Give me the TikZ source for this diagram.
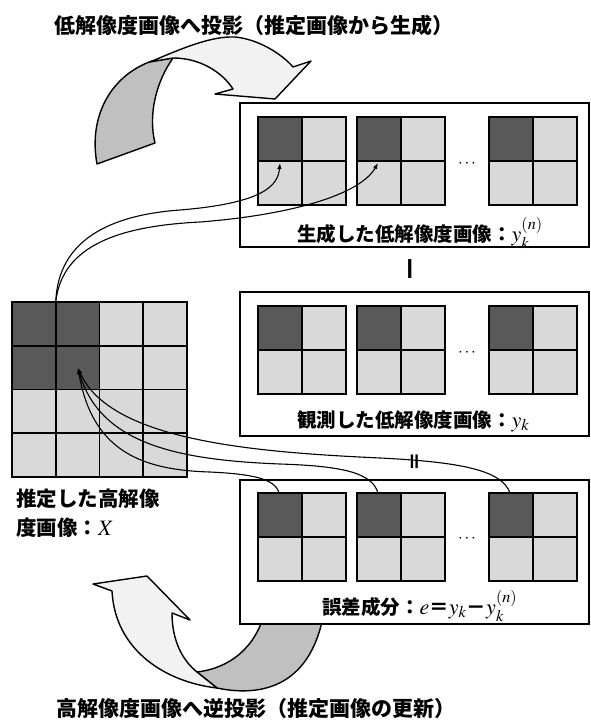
\documentclass[tikz,border=0pt]{standalone}
\usepackage{mathptmx}
\usepackage{fontspec}
\setmainfont{Liberation Serif}
\newfontfamily\jp{Noto Sans CJK JP}
\usetikzlibrary{arrows.meta}
\definecolor{cdark}{HTML}{595959}
\definecolor{clight}{HTML}{D9D9D9}
\definecolor{cgray}{HTML}{C0C0C0}
\definecolor{cpale}{HTML}{F2F2F2}
\newcommand\mth[1]{{\fontsize{22}{24}\selectfont$#1$}}
\begin{document}
\begin{tikzpicture}[x=1pt,y=-1pt,
  gline/.style={line width=1.8pt},
  panel/.style={draw, line width=1.8pt, fill=white, minimum width=349pt, minimum height=144pt, anchor=north west, inner sep=0pt, outer sep=0pt},
  link/.style={line width=1.1pt, -{Latex[length=6pt,width=4.5pt]}},
  bigarrow/.style={line width=1.4pt, line join=round},
  jtext/.style={font=\jp\bfseries\fontsize{19.5}{23}\selectfont, inner sep=0pt},
  jtitle/.style={font=\jp\bfseries\fontsize{21}{24}\selectfont, inner sep=0pt},
  jleft/.style={font=\jp\bfseries\fontsize{20.5}{24}\selectfont, inner sep=0pt},
  dotsn/.style={font=\fontsize{17}{17}\selectfont, inner sep=0pt},
  lowres/.pic={
    \fill[clight] (0,0) rectangle (88,88);
    \fill[cdark] (0,0) rectangle (44,44);
    \draw[gline] (0,0) rectangle (88,88) (44,0) -- (44,88) (0,44) -- (88,44);
  }]
\useasboundingbox (0,0) rectangle (591,720);

% big curved arrows
\filldraw[bigarrow, fill=cgray] (97,164) .. controls (88,115) and (112,75) .. (152,61) -- (173,58) .. controls (156,82) and (148,115) .. (155,143) -- cycle;
\filldraw[bigarrow, fill=cpale] (150,62) .. controls (185,47) and (212,36) .. (235,37) .. controls (258,39) and (282,54) .. (293,67) -- (311,61) -- (275,99) -- (215,94) -- (233,89) .. controls (222,72) and (200,58) .. (173,58) -- cycle;
\filldraw[bigarrow, fill=cgray] (197,672) .. controls (230,668) and (255,648) .. (265,612) -- (324,612) .. controls (310,692) and (255,696) .. (217,688) -- cycle;
\filldraw[bigarrow, fill=cpale] (112,591) -- (93,584) -- (147,576) -- (190,620) -- (172,613) .. controls (172,640) and (182,660) .. (197,672) -- (217,688) .. controls (165,682) and (115,650) .. (112,591) -- cycle;

% panels
\node[panel] (P1) at (240,103) {};
\node[panel] (P2) at (240,292) {};
\node[panel] (P3) at (240,480) {};

\foreach \yy in {117,306,493}{
  \foreach \xx in {258,357,489}{
    \pic at (\xx,\yy) {lowres};
  }
}
\node[dotsn] (d1) at (467,164) {$\cdots$};
\node[dotsn] (d2) at (467,353) {$\cdots$};
\node[dotsn] (d3) at (467,539) {$\cdots$};

% estimated high-res image
\fill[clight] (12,302) rectangle (187,477);
\fill[cdark] (12,302) rectangle (99.5,389.5);
\draw[gline] (12,302) rectangle (187,477);
\foreach \i in {1,2,3}{
  \draw[gline] (12+43.75*\i,302) -- (12+43.75*\i,477);
  \draw[gline] (12,302+43.75*\i) -- (187,302+43.75*\i);
}

% labels
\node[jtitle, anchor=base west] (T1) at (54,33) {低解像度画像へ投影（推定画像から生成）};
\node[jtitle, anchor=base west] (T2) at (56,716) {高解像度画像へ逆投影（推定画像の更新）};
\node[jleft, anchor=base west] (L1) at (16,506) {推定した高解像};
\node[jleft, anchor=base west] (L2) at (16,535) {度画像：\mth{X}};
\node[jtext, anchor=base west] (B1) at (297,241) {生成した低解像度画像：\mth{y_k^{(n)}}};
\node[jtext, anchor=base west] (B2) at (297,427) {観測した低解像度画像：\mth{y_k}};
\node[jtext, anchor=base west] (B3) at (322,614) {誤差成分：\mth{e}＝\mth{y_k}－\mth{y_k^{(n)}}};
\node[jtext, font=\jp\bfseries\fontsize{27}{27}\selectfont, rotate=90] (minus) at (415,269) {－};
\node[jtext, rotate=90] (eq) at (417,462) {＝};

% connectors
\coordinate (Xtop) at (55.75,302);
\coordinate (Xc) at (78,368);
\coordinate (g1) at (280,163);
\coordinate (g2) at (378,163);
\coordinate (e1) at (279,493);
\coordinate (e2) at (378,493);
\coordinate (e3) at (510,493);
\draw[link] (Xtop) .. controls (58,240) and (110,215) .. (180,210) .. controls (265,203) and (278,185) .. (g1);
\draw[link] (Xtop) .. controls (62,245) and (120,226) .. (200,222) .. controls (290,215) and (360,195) .. (g2);
\draw[link] (e3) .. controls (502,470) and (460,462) .. (380,458) .. controls (250,452) and (110,440) .. (Xc);
\draw[link] (e2) .. controls (372,472) and (340,466) .. (280,464) .. controls (180,460) and (100,445) .. (Xc);
\draw[link] (e1) .. controls (275,478) and (250,474) .. (210,472) .. controls (140,470) and (92,450) .. (Xc);
\end{tikzpicture}
\end{document}
